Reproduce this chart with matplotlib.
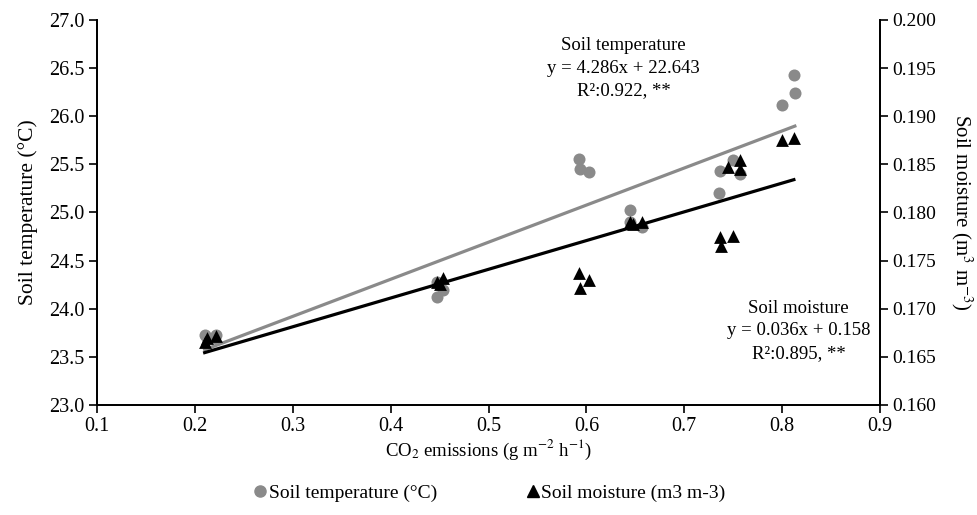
import numpy as np
import matplotlib

matplotlib.use("Agg")
import matplotlib.pyplot as plt  # noqa: E402
from matplotlib.lines import Line2D  # noqa: E402

plt.rcParams["font.family"] = ["Liberation Serif", "DejaVu Serif"]
plt.rcParams["mathtext.fontset"] = "stix"

# CO2 emissions (g m-2 h-1) and soil temperature (°C)
temp_x = [0.210, 0.212, 0.222, 0.220, 0.447, 0.453, 0.447, 0.592, 0.593, 0.603,
          0.645, 0.645, 0.657, 0.737, 0.735, 0.750, 0.757, 0.800, 0.812, 0.813]
temp_y = [23.73, 23.70, 23.73, 23.70, 24.12, 24.19, 24.28, 25.56, 25.45, 25.42,
          25.03, 24.90, 24.85, 25.43, 25.20, 25.55, 25.40, 26.12, 26.43, 26.24]

# CO2 emissions and soil moisture (m3 m-3)
moist_x = [0.210, 0.212, 0.222, 0.447, 0.453, 0.450, 0.592, 0.593, 0.603,
           0.645, 0.657, 0.648, 0.737, 0.738, 0.750, 0.745, 0.757, 0.757,
           0.800, 0.812]
moist_y = [0.1665, 0.1670, 0.1672, 0.1728, 0.1732, 0.1726, 0.1737, 0.1722, 0.1730,
           0.1790, 0.1790, 0.1788, 0.1775, 0.1765, 0.1776, 0.1847, 0.1855, 0.1845,
           0.1875, 0.1877]

GREY = "#8a8a8a"
INK = "#000000"
FS = 13.5

fig = plt.figure(figsize=(9.78, 5.15), dpi=100)
ax = fig.add_axes([0.0992, 0.2136, 0.8006, 0.7476])
ax2 = ax.twinx()

ax.scatter(temp_x, temp_y, s=75, color=GREY, zorder=3, linewidths=0)
ax2.scatter(moist_x, moist_y, s=85, marker="^", color=INK, zorder=3, linewidths=0)

# linear trend lines, fitted from the points
for xs, ys, axis, col in ((temp_x, temp_y, ax, GREY), (moist_x, moist_y, ax2, INK)):
    k, b = np.polyfit(xs, ys, 1)
    xr = np.array([min(xs), max(xs)])
    axis.plot(xr, k * xr + b, color=col, linewidth=2.3, zorder=2)

ax.set_xlim(0.1, 0.9)
ax.set_ylim(23.0, 27.0)
ax2.set_ylim(0.160, 0.200)
ax.set_xticks(np.arange(0.1, 0.91, 0.1))
ax.set_xticklabels([f"{v:.1f}" for v in np.arange(0.1, 0.91, 0.1)])
ax.set_yticks(np.arange(23.0, 27.01, 0.5))
ax.set_yticklabels([f"{v:.1f}" for v in np.arange(23.0, 27.01, 0.5)])
ax2.set_yticks(np.arange(0.160, 0.2001, 0.005))
ax2.set_yticklabels([f"{v:.3f}" for v in np.arange(0.160, 0.2001, 0.005)])

for a in (ax, ax2):
    a.tick_params(direction="out", length=6, width=1.2, labelsize=14.5,
                  colors=INK, pad=3)
    a.spines["top"].set_visible(False)
    for s in ("left", "right", "bottom"):
        a.spines[s].set_linewidth(1.3)
ax2.tick_params(labelsize=14)

ax.set_xlabel(r"CO$_2$ emissions (g m$^{-2}$ h$^{-1}$)", fontsize=FS, labelpad=1)
ax.set_ylabel("Soil temperature (°C)", fontsize=15.5, labelpad=8)
ax2.set_ylabel(r"Soil moisture (m$^3$ m$^{-3}$)", fontsize=15, rotation=-90,
               va="center", ha="center")
ax2.yaxis.set_label_coords(1.104, 0.5)

ax.text(0.638, 26.50, "Soil temperature\ny = 4.286x + 22.643\nR²:0.922, **",
        ha="center", va="center", fontsize=FS, linespacing=1.45)
ax.text(0.817, 23.77, "Soil moisture\ny = 0.036x + 0.158\nR²:0.895, **",
        ha="center", va="center", fontsize=FS, linespacing=1.45)

handles = [
    Line2D([], [], marker="o", color=GREY, linestyle="none", markersize=8),
    Line2D([], [], marker="^", color=INK, linestyle="none", markersize=8),
]
fig.legend(handles, ["Soil temperature (°C)", "Soil moisture (m3 m-3)"],
           loc="center", bbox_to_anchor=(0.5, 0.043), ncol=2, frameon=False,
           fontsize=FS + 0.5, handletextpad=0.05, columnspacing=4.5,
           handlelength=0.8)

fig.savefig("out.png", dpi=100)
